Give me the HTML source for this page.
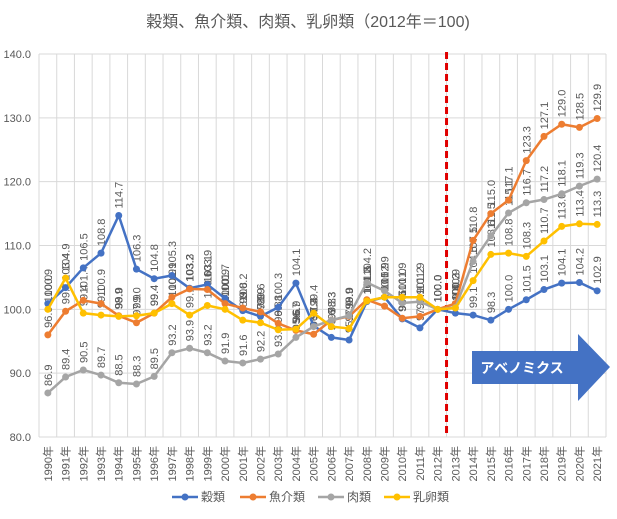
<!DOCTYPE html>
<html><head><meta charset="utf-8"><style>
body{margin:0;background:#fff;}
svg text{font-family:"Liberation Sans","Noto Sans CJK JP",sans-serif;}
</style></head><body>
<svg id="chart" width="617" height="514"></svg>
<script>
const years=["1990年","1991年","1992年","1993年","1994年","1995年","1996年","1997年","1998年","1999年","2000年","2001年","2002年","2003年","2004年","2005年","2006年","2007年","2008年","2009年","2010年","2011年","2012年","2013年","2014年","2015年","2016年","2017年","2018年","2019年","2020年","2021年"];
const grains=[100.9,103.4,106.5,108.8,114.7,106.3,104.8,105.3,103.3,103.9,101.7,99.8,98.9,100.3,104.1,97.4,95.6,95.2,101.2,101.9,98.5,97.1,100.0,99.4,99.1,98.3,100.0,101.5,103.1,104.1,104.2,102.9];
const fish=[96.0,99.7,101.4,100.9,99.0,97.9,99.4,101.9,103.2,103.1,100.9,100.2,99.6,97.8,96.7,96.1,98.3,98.9,101.5,100.5,98.6,98.9,100.0,100.9,110.8,115.0,117.1,123.3,127.1,129.0,128.5,129.9];
const meat=[86.9,89.4,90.5,89.7,88.5,88.3,89.5,93.2,93.9,93.2,91.9,91.6,92.2,93.0,95.6,97.3,98.3,99.0,104.2,102.9,101.0,101.2,100.0,100.3,107.5,111.5,115.1,116.7,117.2,118.1,119.3,120.4];
const dairy=[100.0,104.9,99.4,99.1,98.9,99.0,99.4,100.9,99.1,100.6,100.0,98.3,97.9,96.8,96.9,99.4,97.3,97.0,101.3,101.9,101.9,101.9,100.0,100.2,104.5,108.6,108.8,108.3,110.7,113.0,113.4,113.3];
const yTicks=[80,90,100,110,120,130,140];
const seriesNames=["穀類","魚介類","肉類","乳卵類"];
const colors=["#4472C4","#ED7D31","#A5A5A5","#FFC000"];
const NS="http://www.w3.org/2000/svg";
const svg=document.getElementById('chart');
const L=39,R=606,T=54,B=437;
const cw=(R-L)/years.length;
const x=i=>L+cw*(i+0.5);
const y=v=>B-(v-80)/60*(B-T);
function mk(tag,attrs,parent){const e=document.createElementNS(NS,tag);for(const k in attrs)e.setAttribute(k,attrs[k]);(parent||svg).appendChild(e);return e;}
const t=mk('text',{x:308,y:27,'text-anchor':'middle','font-size':16,fill:'#595959'});t.textContent='穀類、魚介類、肉類、乳卵類（2012年＝100)';


yTicks.forEach(v=>{const l=mk('line',{x1:L,x2:R,y1:y(v),y2:y(v),stroke:'#d9d9d9'});


const tx=mk('text',{x:31,y:y(v)+4,'text-anchor':'end','font-size':11,fill:'#595959'});tx.textContent=v.toFixed(1);

});
for(let i=0;i<=years.length;i++){const l=mk('line',{x1:L+cw*i,x2:L+cw*i,y1:T,y2:B,stroke:'#d9d9d9'});

}
years.forEach((yr,i)=>{const tx=mk('text',{transform:`translate(${x(i)+4},${B+9}) rotate(-90)`,'text-anchor':'end','font-size':11,fill:'#595959'});tx.textContent=yr;

});
const ag=mk('g',{});


mk('polygon',{points:'472,351 578,351 578,334 610,367 578,401 578,384 472,384',fill:'#4472C4'},ag);
const at=mk('text',{x:522,y:373,'text-anchor':'middle','font-size':14,fill:'#fff','font-weight':'bold'},ag);at.textContent='アベノミクス';
const dl=mk('line',{x1:L+cw*23,x2:L+cw*23,y1:T-2,y2:B,stroke:'#e00000','stroke-width':3,'stroke-dasharray':'7,4'});


const data=[grains,fish,meat,dairy];
const labelG=mk('g',{});
data.forEach((arr,s)=>{
 const g=mk('g',{});
 
 
 mk('polyline',{points:arr.map((v,i)=>x(i)+','+y(v)).join(' '),fill:'none',stroke:colors[s],'stroke-width':2.5},g);
 arr.forEach((v,i)=>{const c=mk('circle',{cx:x(i),cy:y(v),r:3.5,fill:colors[s]},g);
  
  
  const lt=mk('text',{transform:`translate(${x(i)+4},${y(v)-7}) rotate(-90)`,'font-size':11,fill:'#595959'},labelG);lt.textContent=v.toFixed(1);
  
  });
});
const lx=[172,240,318,384];
seriesNames.forEach((n,s)=>{const g=mk('g',{});
 
 
 mk('line',{x1:lx[s],x2:lx[s]+26,y1:497,y2:497,stroke:colors[s],'stroke-width':2.5},g);
 mk('circle',{cx:lx[s]+13,cy:497,r:3.5,fill:colors[s]},g);
 const tx=mk('text',{x:lx[s]+29,y:501,'font-size':12,fill:'#595959'},g);tx.textContent=n;});
</script>
</body></html>
